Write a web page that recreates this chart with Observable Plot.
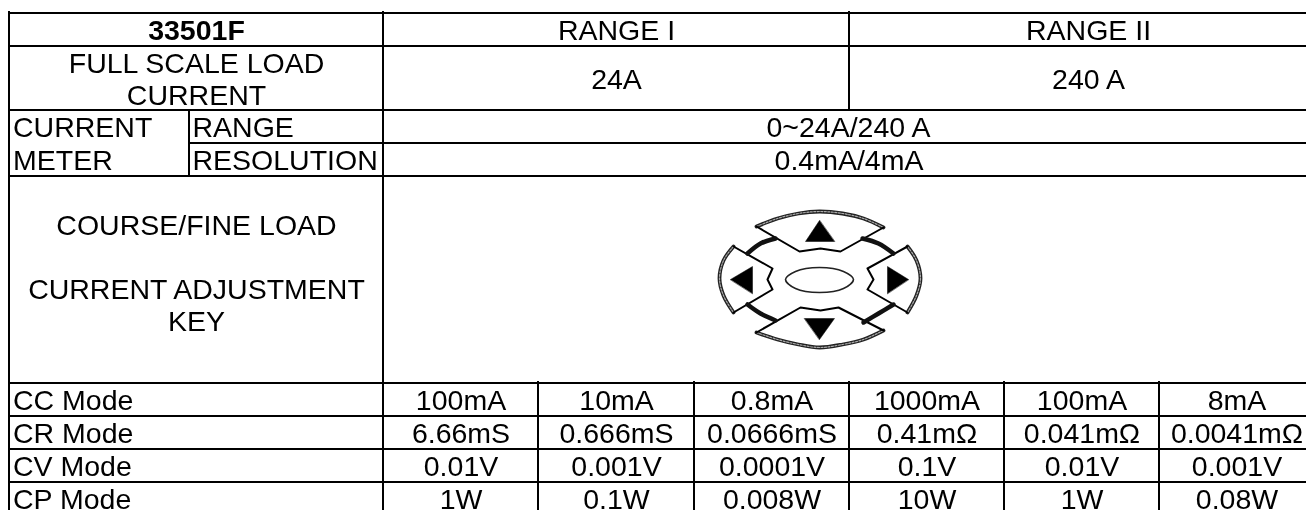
<!DOCTYPE html>
<html>
<head>
<meta charset="utf-8">
<script src="https://cdn.jsdelivr.net/npm/d3@7"></script>
<script src="https://cdn.jsdelivr.net/npm/@observablehq/plot@0.6"></script>
<style>
html,body{margin:0;padding:0;background:#fff;overflow:hidden}
svg{display:block}
.soft-key{filter:blur(0.5px)}
.soft-text{filter:blur(0.25px)}
</style>
</head>
<body>
<div id="chart"></div>
<script>
// Table content
const model = "33501F";
const rangeNames = ["RANGE I", "RANGE II"];
const fullScale = ["24A", "240 A"];
const meterRange = "0~24A/240 A";
const meterResolution = "0.4mA/4mA";
const modes = ["CC Mode", "CR Mode", "CV Mode", "CP Mode"];
const ccSteps = ["100mA", "10mA", "0.8mA", "1000mA", "100mA", "8mA"];
const crSteps = ["6.66mS", "0.666mS", "0.0666mS", "0.41mΩ", "0.041mΩ", "0.0041mΩ"];
const cvSteps = ["0.01V", "0.001V", "0.0001V", "0.1V", "0.01V", "0.001V"];
const cpSteps = ["1W", "0.1W", "0.008W", "10W", "1W", "0.08W"];

// Grid of the table, in the chart's own units (the last column runs past the picture's edge)
const colEdges = [9, 189, 383, 538, 694, 849, 1004, 1159, 1314];
const rowEdges = [13, 46, 110, 143, 176, 383, 416, 449, 482, 515];
const gridH = [
  [8, 1306, 0], [8, 1306, 1], [8, 1306, 2], [189, 1306, 3], [8, 1306, 4],
  [8, 1306, 5], [8, 1306, 6], [8, 1306, 7], [8, 1306, 8]
].map(([x1, x2, r]) => ({x1, x2, y: rowEdges[r]}));
const gridV = [
  [9, 11, 510], [189, 110, 176], [383, 11, 510], [849, 11, 110], [849, 381, 510],
  [538, 381, 510], [694, 381, 510], [1004, 381, 510], [1159, 381, 510]
].map(([x, y1, y2]) => ({x, y1, y2}));

const mid = (a, b) => (a + b) / 2;
const rowMid = (i) => mid(rowEdges[i], rowEdges[i + 1]);
const colMid = (i) => mid(colEdges[i], colEdges[i + 1]);

const centred = [
  {t: "FULL SCALE LOAD\nCURRENT", x: 196, y: rowMid(1)},
  {t: rangeNames[0], x: 616, y: rowMid(0)},
  {t: rangeNames[1], x: 1088, y: rowMid(0)},
  {t: fullScale[0], x: 616, y: rowMid(1)},
  {t: fullScale[1], x: 1088, y: rowMid(1)},
  {t: meterRange, x: 848, y: rowMid(2)},
  {t: meterResolution, x: 848.5, y: rowMid(3)},
  {t: "COURSE/FINE LOAD\n\nCURRENT ADJUSTMENT\nKEY", x: 196, y: 272}
];
[ccSteps, crSteps, cvSteps, cpSteps].forEach((row, r) =>
  row.forEach((t, c) => centred.push({t, x: colMid(c + 2), y: rowMid(r + 5)}))
);
const leftAligned = [
  {t: "CURRENT", x: 12.5, y: rowMid(2)},
  {t: "METER", x: 12.5, y: rowMid(3)},
  {t: "RANGE", x: 192, y: rowMid(2)},
  {t: "RESOLUTION", x: 192, y: rowMid(3)},
  ...modes.map((t, i) => ({t, x: 12.5, y: rowMid(i + 5)}))
];

// Adjustment key drawing: [x, y] outlines
const keyEdges = [
  [[756,226],[799,251],[820,248],[840,251],[883,227]],
  [[756,332],[800,307],[820,310],[838,307],[883,330]],
  [[733,246],[772,268],[767,279],[772,289],[733,312]],
  [[907,246],[867,268],[873,279],[867,289],[907,312]]
];
const keyArcs = [
  [[756,226],[777,218],[798,213],[819,211],[842,213],[863,218],[883,227]],
  [[756,332],[777,339],[798,344],[819,347],[842,344],[863,339],[883,330]],
  [[733,246],[723,260],[719,278],[723,295],[733,312]],
  [[907,246],[916,260],[920,278],[916,295],[907,312]]
];
const keyRing = [
  [[747,253],[760,243],[775,238]],
  [[862,238],[878,243],[893,253]],
  [[747,304],[760,313],[775,320]],
  [[893,304],[878,313],[863,322]]
];
const keyArrows = [
  [[819,220],[805,241],[834,241]],
  [[804,318],[834,318],[819,339]],
  [[730,279],[752,266],[752,293]],
  [[908,279],[887,266],[887,293]]
];
const keyCentre = [[785,279],[795,271],[819,267],[843,271],[853,279],[843,288],[819,292],[795,288]];

const flat = (groups) => groups.flatMap((pts, k) => pts.map(([x, y]) => ({x, y, k})));
const font = {fontFamily: "'Liberation Sans', Arial, sans-serif", fontSize: 28.5, fill: "#000", lineHeight: 32 / 28.5, lineAnchor: "middle", text: "t", x: "x", y: "y", className: "soft-text"};
const key = {x: "x", y: "y", className: "soft-key"};

const chart = Plot.plot({
  width: 1306,
  height: 510,
  margin: 0,
  style: {background: "#fff"},
  x: {domain: [0, 1306], range: [0, 1306], axis: null},
  y: {domain: [0, 510], range: [0, 510], axis: null},
  marks: [
    Plot.ruleY(gridH, {x1: "x1", x2: "x2", y: "y", stroke: "#000", strokeWidth: 2, dy: -0.5}),
    Plot.ruleX(gridV, {x: "x", y1: "y1", y2: "y2", stroke: "#000", strokeWidth: 2, dx: -0.5}),
    Plot.text([{t: model, x: 196, y: rowMid(0)}], {...font, fontWeight: "bold"}),
    Plot.text(centred, {...font, textAnchor: "middle"}),
    Plot.text(leftAligned, {...font, textAnchor: "start"}),
    Plot.line(flat(keyArcs), {...key, z: "k", curve: "catmull-rom", stroke: "#222", strokeWidth: 3.8}),
    Plot.line(flat(keyArcs), {...key, z: "k", curve: "catmull-rom", stroke: "#aaa", strokeWidth: 1.2, strokeDasharray: "2,1.5"}),
    Plot.line(flat(keyEdges), {...key, z: "k", stroke: "#000", strokeWidth: 2, strokeLinejoin: "round"}),
    Plot.line(flat(keyRing), {...key, z: "k", curve: "catmull-rom", stroke: "#111", strokeWidth: 4.5}),
    Plot.line(flat(keyArrows), {...key, z: "k", curve: "linear-closed", stroke: "#000", strokeWidth: 0.5, fill: "#000"}),
    Plot.line(keyCentre.map(([x, y]) => ({x, y})), {...key, curve: "catmull-rom-closed", stroke: "#222", strokeWidth: 1.6, fill: "none"})
  ]
});
document.getElementById("chart").appendChild(chart);
</script>
</body>
</html>
